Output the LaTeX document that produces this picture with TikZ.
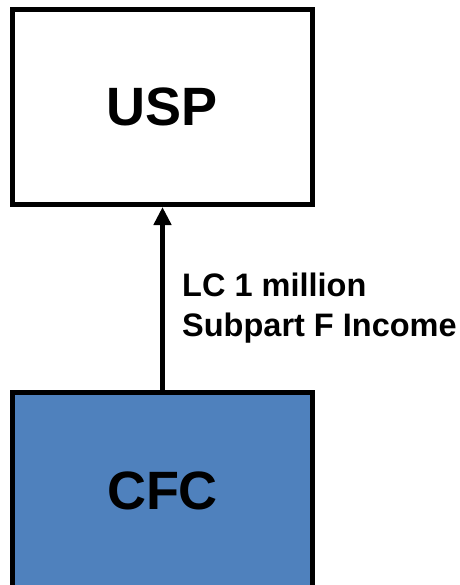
\documentclass[tikz,border=0pt]{standalone}
\usepackage{fontspec}
\setmainfont{Liberation Sans}
\usetikzlibrary{arrows.meta}
\definecolor{cfcblue}{RGB}{79,129,189}
\begin{document}
\begin{tikzpicture}[x=1pt,y=-1pt,
  entity/.style={draw=black,line width=5pt,minimum width=300pt,inner sep=0pt,
    font=\fontsize{54}{60}\selectfont\bfseries},
  flow/.style={line width=4.5pt,-{Triangle[width=17pt,length=18pt]}},
  flowlabel/.style={anchor=north west,inner sep=0pt,align=left,
    font=\fontsize{32.5}{39.5}\selectfont\bfseries}]
  \clip (0,0) rectangle (459,585);
  \fill[white] (0,0) rectangle (459,585);
  % parent and subsidiary entities
  \node[entity,fill=white,minimum height=195pt] (usp) at (162.5,107) {USP};
  \node[entity,fill=cfcblue,minimum height=197pt] (cfc) at (162.5,491) {CFC};
  % income inclusion
  \draw[flow] (cfc.north) -- (usp.south);
  \node[flowlabel] (lbl) at (182,273) {LC 1 million\\Subpart F Income};
\end{tikzpicture}
\end{document}
